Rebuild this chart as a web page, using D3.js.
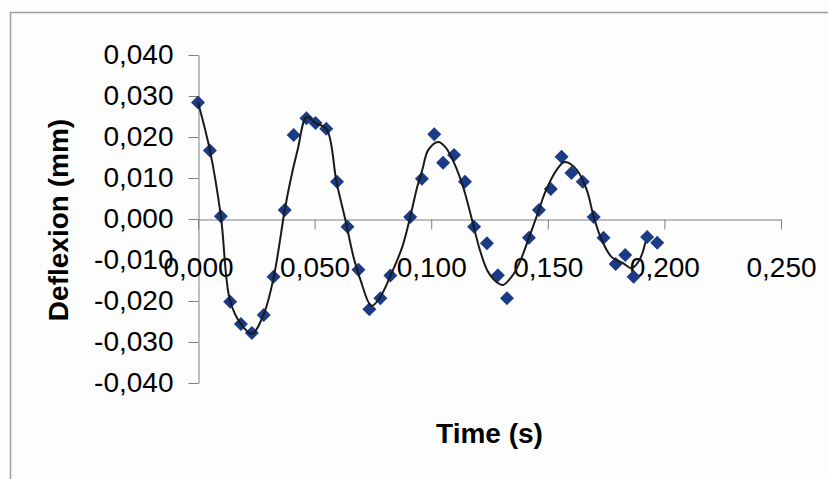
<!DOCTYPE html>
<html>
<head>
<meta charset="utf-8">
<script src="https://cdn.jsdelivr.net/npm/d3@7"></script>
<style>
  html, body { margin: 0; padding: 0; background: #fdfdfd; }
  svg { display: block; }
</style>
</head>
<body>
<div id="chart"></div>
<script>
// measured samples (time in s, deflexion in mm)
const sampleTime = [0.000, 0.0051, 0.0098, 0.0138, 0.0184, 0.0231, 0.0282, 0.0324, 0.0372, 0.0410,
  0.0465, 0.0504, 0.0550, 0.0596, 0.0641, 0.0688, 0.0735, 0.0782, 0.0825, 0.0910,
  0.0960, 0.1013, 0.1051, 0.1098, 0.1145, 0.1184, 0.1239, 0.1286, 0.1325, 0.1419,
  0.1462, 0.1513, 0.1559, 0.1601, 0.1650, 0.1697, 0.1739, 0.1791, 0.1832, 0.1868,
  0.1926, 0.1969];
const sampleDefl = [0.0284, 0.0167, 0.0007, -0.0202, -0.0256, -0.0278, -0.0234, -0.0141, 0.0022, 0.0205,
  0.0246, 0.0234, 0.0220, 0.0091, -0.0019, -0.0124, -0.0220, -0.0193, -0.0138, 0.0005,
  0.0098, 0.0207, 0.0137, 0.0156, 0.0091, -0.0019, -0.0059, -0.0137, -0.0193, -0.0046,
  0.0022, 0.0073, 0.0152, 0.0112, 0.0091, 0.0005, -0.0046, -0.0110, -0.0088, -0.0141,
  -0.0044, -0.0058];

// fitted curve
const fitTime = [0.000, 0.0051, 0.0098, 0.0137, 0.0184, 0.0231, 0.0282, 0.0325, 0.0372, 0.0397,
  0.0427, 0.0466, 0.0504, 0.0551, 0.0594, 0.0632, 0.0667, 0.0697, 0.0744, 0.0782,
  0.0825, 0.0876, 0.0910, 0.0940, 0.0962, 0.0987, 0.1030, 0.1060, 0.1098, 0.1137,
  0.1175, 0.1209, 0.1244, 0.1286, 0.1308, 0.1350, 0.1380, 0.1419, 0.1462, 0.1487,
  0.1538, 0.1573, 0.1624, 0.1667, 0.1697, 0.1731, 0.1774, 0.1821, 0.1859, 0.1893,
  0.1919];
const fitDefl = [0.0285, 0.0168, 0.0007, -0.0198, -0.0256, -0.0280, -0.0232, -0.0141, 0.0022, 0.0095,
  0.0168, 0.0249, 0.0234, 0.0220, 0.0090, -0.0002, -0.0093, -0.0149, -0.0212, -0.0190,
  -0.0139, -0.0068, 0.0005, 0.0078, 0.0120, 0.0168, 0.0188, 0.0176, 0.0137, 0.0078,
  -0.0002, -0.0076, -0.0129, -0.0156, -0.0161, -0.0137, -0.0105, -0.0046, 0.0022, 0.0063,
  0.0120, 0.0139, 0.0120, 0.0071, 0.0005, -0.0051, -0.0093, -0.0107, -0.0120, -0.0100,
  -0.0056];

const xTicks = [0, 0.05, 0.10, 0.15, 0.20, 0.25];
const yTicks = [0.04, 0.03, 0.02, 0.01, 0, -0.01, -0.02, -0.03, -0.04];

const W = 828, H = 479;
const FONT = 'Arial, "Liberation Sans", sans-serif';

const loc = d3.formatLocale({ decimal: ',', thousands: '.', grouping: [3], currency: ['', ''], minus: '-' });
const fmt = loc.format('.3f');

const svg = d3.select('#chart').append('svg').attr('width', W).attr('height', H);

svg.append('rect').attr('width', W).attr('height', H).attr('fill', '#fdfdfd');

// chart frame
svg.append('path')
  .attr('d', `M10.5,${H} V12.5 H${W}`)
  .attr('fill', 'none').attr('stroke', '#a0a0a0').attr('stroke-width', 1.5);

const x = d3.scaleLinear().domain([0, 0.25]).range([198, 781]);
const y = d3.scaleLinear().domain([0.04, -0.04]).range([55, 383]);

// y axis
svg.append('g').attr('transform', `translate(${x(0) + 0.5},0)`)
  .call(d3.axisLeft(y).tickValues(yTicks).tickFormat(fmt).tickSize(10).tickSizeOuter(0).tickPadding(15))
  .call(g => g.select('.domain').attr('stroke', '#7f7f7f'))
  .call(g => g.selectAll('.tick line').attr('stroke', '#7f7f7f'))
  .call(g => g.selectAll('.tick text').attr('fill', '#000').attr('font-size', '28px').attr('font-family', FONT));

// x axis
svg.append('g').attr('transform', `translate(0,${y(0) + 0.5})`)
  .call(d3.axisBottom(x).tickValues(xTicks).tickFormat(fmt).tickSize(10).tickSizeOuter(0).tickPadding(28))
  .call(g => g.select('.domain').attr('stroke', '#7f7f7f'))
  .call(g => g.selectAll('.tick line').attr('stroke', '#7f7f7f'))
  .call(g => g.selectAll('.tick text').attr('fill', '#000').attr('font-size', '28px').attr('font-family', FONT));

// axis titles
svg.append('text')
  .attr('x', (x(0) + x(0.25)) / 2).attr('y', 443)
  .attr('text-anchor', 'middle').attr('fill', '#000')
  .attr('font-size', '28px').attr('font-weight', '700').attr('font-family', FONT)
  .text('Time (s)');

svg.append('text')
  .attr('transform', `translate(68,220) rotate(-90)`)
  .attr('text-anchor', 'middle').attr('fill', '#000')
  .attr('font-size', '28px').attr('font-weight', '700').attr('font-family', FONT)
  .text('Deflexion (mm)');

// measured points as diamonds
const samples = sampleTime.map((t, i) => ({ t, v: sampleDefl[i] }));
svg.append('g').selectAll('path').data(samples).join('path')
  .attr('d', d3.symbol(d3.symbolSquare, 98)())
  .attr('transform', d => `translate(${x(d.t)},${y(d.v)}) rotate(45)`)
  .attr('fill', '#1b3b86');

// fitted curve
const fit = fitTime.map((t, i) => ({ t, v: fitDefl[i] }));
svg.append('path').datum(fit)
  .attr('d', d3.line().x(d => x(d.t)).y(d => y(d.v)).curve(d3.curveCatmullRom.alpha(0.5)))
  .attr('fill', 'none').attr('stroke', '#1a1a1a').attr('stroke-width', 2);
</script>
</body>
</html>
